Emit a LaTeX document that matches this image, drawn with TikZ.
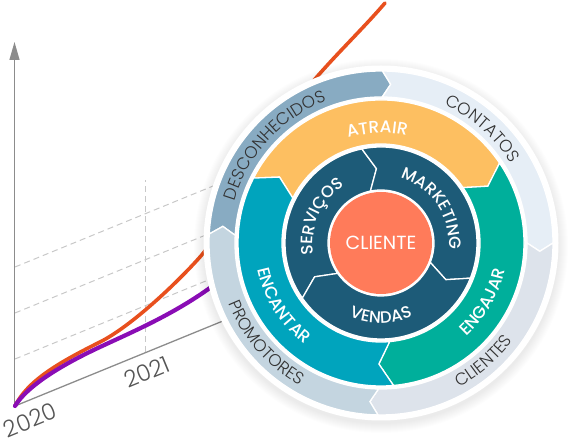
\documentclass[tikz,border=0pt]{standalone}
\usepackage{fontspec}
\usetikzlibrary{arrows.meta,decorations.text}
\setmainfont{Poppins}
\IfFontExistsTF{Poppins Light}{%
  \newfontfamily\lightfont{Poppins Light}[LetterSpace=2]%
  \newfontfamily\yearfont{Poppins Light}}{%
  \newfontfamily\lightfont{Poppins}[LetterSpace=2]%
  \newfontfamily\yearfont{Poppins}}
\IfFontExistsTF{Poppins Medium}{%
  \newfontfamily\medfont{Poppins Medium}[LetterSpace=3]}{%
  \newfontfamily\medfont{Poppins}[LetterSpace=3]}
\newfontfamily\centerfont{Poppins}
\definecolor{axisgray}{HTML}{8C8C8C}
\definecolor{dashgray}{HTML}{C8C8C8}
\definecolor{yeargray}{HTML}{555555}
\definecolor{curveorange}{HTML}{E8501E}
\definecolor{curvepurple}{HTML}{8A0DB5}
\definecolor{cdesc}{HTML}{88ABC2}
\definecolor{ccont}{HTML}{E6EEF6}
\definecolor{ccli}{HTML}{DDE3EB}
\definecolor{cprom}{HTML}{C4D5E0}
\definecolor{catr}{HTML}{FDBF61}
\definecolor{ceng}{HTML}{00AF9B}
\definecolor{cenc}{HTML}{00A4BD}
\definecolor{cdark}{HTML}{1D5B78}
\definecolor{ccenter}{HTML}{FF7B5A}
\definecolor{outertext}{HTML}{333333}
\newcommand\ringseg[7]{%
  \filldraw[fill=#1, draw=white, line width=1.3pt, line join=miter]
    ({#2}:#5pt) arc[start angle={#2}, end angle={#3}, radius=#5pt]
    -- ({#3-#7}:#6pt) -- ({#3}:#4pt)
    arc[start angle={#3}, end angle={#2}, radius=#4pt]
    -- ({#2-#7}:#6pt) -- cycle;}
\newcommand\cwtext[5]{%
  \path[decorate, decoration={text along path, text={|#1|#2}, text align=center}]
    ({#3+#5}:#4pt) arc[start angle={#3+#5}, end angle={#3-#5}, radius=#4pt];}
\newcommand\ccwtext[5]{%
  \path[decorate, decoration={text along path, text={|#1|#2}, text align=center}]
    ({#3-#5}:#4pt) arc[start angle={#3-#5}, end angle={#3+#5}, radius=#4pt];}
\newcommand\outerfmt{\lightfont\fontsize{17}{20}\selectfont\color{outertext}}
\newcommand\innerfmt{\medfont\fontsize{17}{20}\selectfont\color{white}}
\newcommand\darkfmt{\medfont\fontsize{16.5}{20}\selectfont\color{white}}
\tikzset{
  dashline/.style={draw=dashgray, line width=1pt, dash pattern=on 6pt off 4pt},
  axisline/.style={draw=axisgray, line width=1.3pt},
  curve/.style={line width=3.6pt, line cap=round},
  year/.style={font=\yearfont\fontsize{23}{26}\selectfont, text=yeargray, inner sep=0pt}
}
\begin{document}
\begin{tikzpicture}[x=1pt,y=1pt]
\useasboundingbox (0,0) rectangle (584,446);
% ---------- chart ----------
\coordinate (origin) at (15,40);
\coordinate (yend) at (14.5,404);
\coordinate (xend) at (240,132);
\draw[dashline] (145,94) -- (145,266);
\draw[dashline] (15,179) -- (240,271);
\draw[dashline] (15,133) -- (240,225);
\draw[dashline] (15,87) -- (240,179);
\draw[axisline] (origin) -- (xend);
\draw[axisline, -{Triangle[length=18pt,width=10pt]}] (14.5,40) -- (yend);
\draw[curve, draw=curveorange] (origin)
  .. controls (28,66) and (60,84) .. (100,104)
  .. controls (130,119) and (175,161) .. (200,189)
  .. controls (225,217) and (285,330) .. (305,355)
  .. controls (330,386) and (362,416) .. (385,443);
\draw[curve, draw=curvepurple, line width=4.2pt] (origin)
  .. controls (26,58) and (55,78) .. (100,99)
  .. controls (130,113) and (170,130) .. (207,156)
  .. controls (220,165) and (230,175) .. (240,185);
\node[year, rotate=22.5] (y2020) at (30,26) {2020};
\node[year, rotate=22.5] (y2021) at (147,74) {2021};
% ---------- flywheel ----------
\begin{scope}[shift={(381,203)}]
  \foreach \k in {1,...,10} \fill[black, opacity=0.008] (0,-3) circle[radius={177+\k*1pt}];
  \fill[white] (0,0) circle[radius=177.5pt];
  % outer ring
  \ringseg{cdesc}{177}{89.5}{146}{172}{159}{3}
  \ringseg{ccont}{89.5}{0}{146}{172}{159}{3}
  \ringseg{ccli}{0}{-91}{146}{172}{159}{3}
  \ringseg{cprom}{-91}{-183}{146}{172}{159}{3}
  % coloured ring
  \ringseg{catr}{153}{34}{99}{143}{121}{6}
  \ringseg{ceng}{34}{-85}{99}{143}{121}{6}
  \ringseg{cenc}{-85}{-207}{99}{143}{121}{6}
  % dark ring
  \ringseg{cdark}{215}{101.5}{53}{96}{74.5}{8}
  \ringseg{cdark}{101.5}{-21.5}{53}{96}{74.5}{8}
  \ringseg{cdark}{-21.5}{-145}{53}{96}{74.5}{8}
  % centre
  \node[circle, fill=ccenter, minimum size=102pt, inner sep=0pt, text=white,
        font=\centerfont\fontsize{19}{22}\selectfont] (cliente) at (0,0) {CLIENTE};
  % outer labels
  \cwtext{\outerfmt}{DESCONHECIDOS}{137.5}{152}{50}
  \cwtext{\outerfmt}{CONTATOS}{48.5}{152}{40}
  \ccwtext{\outerfmt}{CLIENTES}{-49}{164}{40}
  \ccwtext{\outerfmt}{PROMOTORES}{221}{164}{40}
  % coloured ring labels
  \cwtext{\innerfmt}{ATRAIR}{92}{110}{50}
  \ccwtext{\innerfmt}{ENGAJAR}{-30}{126.5}{50}
  \ccwtext{\innerfmt}{ENCANTAR}{212.5}{126.5}{50}
  % dark ring labels
  \cwtext{\darkfmt}{MARKETING}{34}{68}{70}
  \cwtext{\darkfmt}{SERVIÇOS}{156}{68}{70}
  \ccwtext{\darkfmt}{VENDAS}{270}{80}{60}
\end{scope}
\end{tikzpicture}
\end{document}
